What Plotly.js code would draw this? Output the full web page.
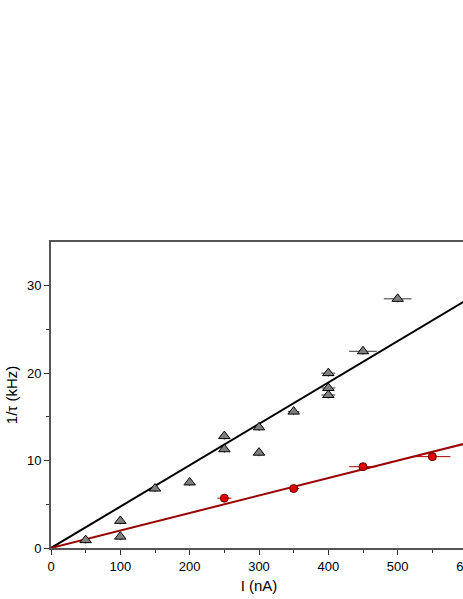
<!DOCTYPE html>
<html><head><meta charset="utf-8">
<script src="https://cdn.plot.ly/plotly-3.0.1.min.js"></script>
<style>html,body{margin:0;padding:0;overflow:hidden;background:#fff;width:463px;height:599px}#c{width:492px;height:599px}</style>
</head><body><div id="c"></div>
<script>
// Black triangles series
var triX = [50, 100, 100, 150, 200, 250, 250, 300, 300, 350, 400, 400, 400, 450, 500];
var triY = [0.9, 3.1, 1.3, 6.8, 7.5, 12.8, 11.3, 13.8, 10.9, 15.6, 20.0, 18.3, 17.5, 22.5, 28.5];
var triXErr = [2, 3, 3, 4, 4, 5, 5, 6, 6, 8, 10, 10, 10, 20, 20];
var triYErr = [0.4, 0.4, 0.4, 0.4, 0.4, 0.4, 0.4, 0.4, 0.4, 0.4, 0.4, 0.4, 0.4, 0.4, 0.4];
// Red circles series
var dotX = [250, 350, 450, 550];
var dotY = [5.7, 6.8, 9.3, 10.45];
var dotXErr = [10, 8, 20, 26];
// Linear fits
var fitX = [0, 600];
var blackFit = [0, 28.4];
var redFit = [0, 12.0];

var traces = [
  {x: fitX, y: blackFit, mode: 'lines', line: {color: '#000000', width: 2}, hoverinfo: 'skip'},
  {x: fitX, y: redFit, mode: 'lines', line: {color: '#990000', width: 2}, hoverinfo: 'skip'},
  {x: triX, y: triY, mode: 'markers', type: 'scatter',
   marker: {symbol: 'triangle-up', size: 10, color: '#808080', line: {color: '#000000', width: 1}},
   error_x: {type: 'data', array: triXErr, color: '#333333', thickness: 1, width: 0},
   error_y: {type: 'data', array: triYErr, color: '#333333', thickness: 1, width: 0}},
  {x: dotX, y: dotY, mode: 'markers', type: 'scatter',
   marker: {symbol: 'circle', size: 8, color: '#e00000', line: {color: '#660000', width: 1}},
   error_x: {type: 'data', array: dotXErr, color: '#aa0000', thickness: 1, width: 0}}
];

var axisCommon = {
  showgrid: false, zeroline: false, showline: true, linecolor: '#555555', linewidth: 2,
  ticks: 'outside', ticklen: 5, tickwidth: 1, tickcolor: '#333333',
  tickfont: {family: 'Liberation Sans, Arial, sans-serif', size: 13, color: '#000'},
  mirror: true
};

var layout = {
  width: 492, height: 599,
  margin: {l: 51, r: 25, t: 242, b: 51},
  paper_bgcolor: '#ffffff', plot_bgcolor: '#ffffff',
  showlegend: false,
  xaxis: Object.assign({}, axisCommon, {
    range: [0, 600], tickvals: [0, 100, 200, 300, 400, 500, 600],
    minor: {tickvals: [50, 150, 250, 350, 450, 550], ticks: 'outside', ticklen: 3, tickcolor: '#333333'},
    title: {text: 'I (nA)', font: {family: 'Liberation Sans, Arial, sans-serif', size: 15, color: '#000'}, standoff: 8}
  }),
  yaxis: Object.assign({}, axisCommon, {
    range: [0, 35], tickvals: [0, 10, 20, 30],
    minor: {tickvals: [5, 15, 25], ticks: 'outside', ticklen: 3, tickcolor: '#333333'},
    title: {text: '1/τ (kHz)', font: {family: 'Liberation Sans, Arial, sans-serif', size: 15, color: '#000'}, standoff: 6}
  })
};

Plotly.newPlot('c', traces, layout, {displayModeBar: false, staticPlot: true});
</script></body></html>
